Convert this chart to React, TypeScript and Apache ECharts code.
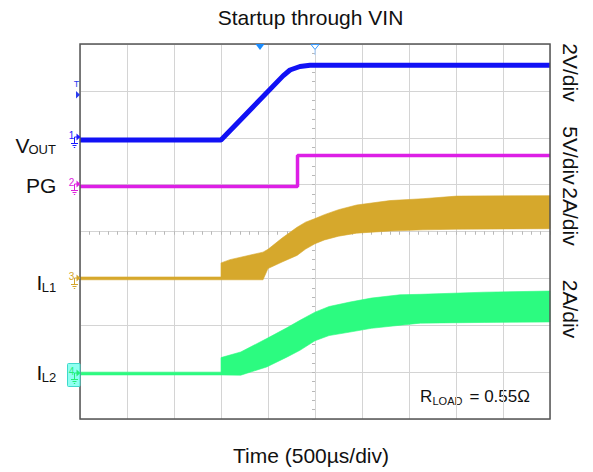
import React, { useEffect, useRef } from "react";
import * as echarts from "echarts";

// Time relative to trigger (µs), 500 µs/div
const voutT = [-2500, -1000, -340, -266, -160, -53, 2500];
const voutV = [0, 0, 2.74, 2.99, 3.14, 3.19, 3.19]; // V, 2V/div
const pgT = [-2500, -186, -186, 2500];
const pgV = [0, 0, 3.3, 3.3]; // V, 5V/div
const il1T = [-2500, -1000, -1000, -904, -553, -500, -350, -191, -100, 0, 100, 250, 443, 798, 1149, 1507, 2500];
const il1Lo = [-0.06, -0.06, -0.06, -0.06, -0.06, 0.42, 0.7, 0.98, 1.25, 1.48, 1.64, 1.8, 1.93, 2.02, 2.07, 2.1, 2.12]; // A
const il1Hi = [0.06, 0.06, 0.66, 0.8, 1.12, 1.24, 1.72, 2.18, 2.4, 2.55, 2.72, 2.93, 3.13, 3.32, 3.4, 3.51, 3.53]; // A
const il2T = [-2500, -1000, -1000, -790, -514, -300, -160, 0, 150, 372, 600, 904, 1122, 1800, 2500];
const il2Lo = [-0.06, -0.06, -0.06, -0.07, 0.28, 0.7, 0.99, 1.4, 1.62, 1.77, 1.93, 2.06, 2.15, 2.18, 2.2]; // A
const il2Hi = [0.06, 0.06, 0.68, 0.92, 1.49, 1.95, 2.27, 2.62, 2.86, 3.05, 3.22, 3.36, 3.38, 3.47, 3.52]; // A

// channel display settings (screen divisions from center, units per division)
const CH1 = { offset: 1.95, scale: 2 };
const CH2 = { offset: 0.96, scale: 5 };
const CH3 = { offset: -1.0, scale: 2 };
const CH4 = { offset: -3.03, scale: 2 };

const FONT = "'Liberation Sans', Arial, Helvetica, sans-serif";
const GRID_GRAY = "#d4d4d4";

function toDiv(t: number[], v: number[], ch: { offset: number; scale: number }) {
  return t.map((x, i) => [x, ch.offset + v[i] / ch.scale]);
}

function bandSeries(t: number[], lo: number[], hi: number[], ch: { offset: number; scale: number }, color: string) {
  return {
    type: "custom",
    data: [[0, 0]],
    z: 3,
    renderItem: (_params: any, api: any) => {
      const top = t.map((x, i) => api.coord([x, ch.offset + hi[i] / ch.scale]));
      const bot = t.map((x, i) => api.coord([x, ch.offset + lo[i] / ch.scale])).reverse();
      return {
        type: "polygon",
        shape: { points: top.concat(bot) },
        style: { fill: color, stroke: color, lineWidth: 0.6 },
      };
    },
  };
}

function chMarker(num: string, y: number, color: string, boxed: boolean): any[] {
  const els: any[] = [];
  if (boxed) {
    els.push({
      type: "rect",
      shape: { x: 67.5, y: y - 9.5, width: 12.5, height: 23, r: 1 },
      style: { fill: "#8ffff0", stroke: "#3fd9cc", lineWidth: 1 },
      z: 10,
    });
  }
  els.push(
    { type: "text", x: 71.5, y: y - 2, style: { text: num, fill: color, font: `10px ${FONT}`, textAlign: "center", textVerticalAlign: "middle" }, z: 11 },
    { type: "line", shape: { x1: 74.5, y1: y, x2: 77, y2: y }, style: { stroke: color, lineWidth: 1 }, z: 11 },
    { type: "line", shape: { x1: 74.5, y1: y, x2: 74.5, y2: y + 6 }, style: { stroke: color, lineWidth: 1 }, z: 11 },
    { type: "polygon", shape: { points: [[76.5, y - 3.5], [80.5, y], [76.5, y + 3.5]] }, style: { fill: color }, z: 11 },
    { type: "line", shape: { x1: 71, y1: y + 6.5, x2: 78, y2: y + 6.5 }, style: { stroke: color, lineWidth: 1 }, z: 11 },
    { type: "line", shape: { x1: 72.5, y1: y + 8.5, x2: 76.5, y2: y + 8.5 }, style: { stroke: color, lineWidth: 1 }, z: 11 },
    { type: "line", shape: { x1: 73.8, y1: y + 10.5, x2: 75.2, y2: y + 10.5 }, style: { stroke: color, lineWidth: 1 }, z: 11 }
  );
  return els;
}

function label(main: string, sub: string, x: number, y: number, subX: number, subY: number): any[] {
  const els: any[] = [
    { type: "text", x, y, style: { text: main, fill: "#111", font: `21px ${FONT}`, textAlign: "left", textVerticalAlign: "middle" } },
  ];
  if (sub) {
    els.push({ type: "text", x: subX, y: subY, style: { text: sub, fill: "#111", font: `13px ${FONT}`, textAlign: "left", textVerticalAlign: "middle" } });
  }
  return els;
}

function rotLabel(text: string, y: number): any {
  return {
    type: "text",
    x: 570,
    y,
    rotation: -Math.PI / 2,
    style: { text, fill: "#111", font: `21px ${FONT}`, textAlign: "center", textVerticalAlign: "middle" },
  };
}

export default function App() {
  const ref = useRef<HTMLDivElement>(null);
  useEffect(() => {
    if (!ref.current) return;
    const chart = echarts.init(ref.current, undefined, { renderer: "svg" });
    const tickAxisX = (inside: boolean, withSplit: boolean) => ({
      type: "value",
      min: -2500,
      max: 2500,
      interval: 500,
      axisLabel: { show: false },
      axisLine: { show: withSplit, onZero: true, lineStyle: { color: GRID_GRAY, width: 1 } },
      axisTick: { show: true, inside, length: 3, lineStyle: { color: "#b8b8b8" } },
      minorTick: { show: true, splitNumber: 5, length: 3, lineStyle: { color: "#b8b8b8" } },
      splitLine: { show: withSplit, lineStyle: { color: GRID_GRAY, width: 1 } },
    });
    const tickAxisY = (inside: boolean, withSplit: boolean) => ({
      type: "value",
      min: -4,
      max: 4,
      interval: 1,
      axisLabel: { show: false },
      axisLine: { show: withSplit, onZero: true, lineStyle: { color: GRID_GRAY, width: 1 } },
      axisTick: { show: true, inside, length: 3, lineStyle: { color: "#b8b8b8" } },
      minorTick: { show: true, splitNumber: 5, length: 3, lineStyle: { color: "#b8b8b8" } },
      splitLine: { show: withSplit, lineStyle: { color: GRID_GRAY, width: 1 } },
    });

    const graphic: any[] = [
      { type: "text", x: 310.5, y: 17.5, style: { text: "Startup through VIN", fill: "#111", font: `21px ${FONT}`, textAlign: "center", textVerticalAlign: "middle" } },
      { type: "text", x: 311, y: 455.5, style: { text: "Time (500µs/div)", fill: "#111", font: `21px ${FONT}`, textAlign: "center", textVerticalAlign: "middle" } },
      ...label("V", "OUT", 15.5, 145, 28.5, 149.5),
      ...label("PG", "", 26, 185.5, 0, 0),
      ...label("I", "L1", 36.5, 282, 41.8, 287),
      ...label("I", "L2", 36.5, 372.5, 41.8, 377.5),
      rotLabel("2V/div", 72.5),
      rotLabel("5V/div", 155.5),
      rotLabel("2A/div", 216.5),
      rotLabel("2A/div", 309),
      { type: "text", x: 420, y: 396.5, style: { text: "R", fill: "#111", font: `17px ${FONT}`, textAlign: "left", textVerticalAlign: "middle" } },
      { type: "text", x: 432.5, y: 401, style: { text: "LOAD", fill: "#111", font: `11px ${FONT}`, textAlign: "left", textVerticalAlign: "middle" } },
      { type: "text", x: 469.5, y: 396.5, style: { text: "= 0.55Ω", fill: "#111", font: `17px ${FONT}`, textAlign: "left", textVerticalAlign: "middle" } },
      ...chMarker("1", 137, "#1a1aff", false),
      ...chMarker("2", 184, "#dd22dd", false),
      ...chMarker("3", 278, "#d4a52a", false),
      ...chMarker("4", 373, "#22ee77", true),
      { type: "text", x: 76.5, y: 83.5, style: { text: "T", fill: "#2a3cf0", font: `9px ${FONT}`, textAlign: "center", textVerticalAlign: "middle" }, z: 11 },
      { type: "polygon", shape: { points: [[76, 91], [80, 94.7], [76, 98.4]] }, style: { fill: "#2a3cf0" }, z: 11 },
      { type: "polygon", shape: { points: [[255.5, 44], [264.5, 44], [260, 50]] }, style: { fill: "#1a8cff" }, z: 11 },
      { type: "polygon", shape: { points: [[311, 44.5], [319, 44.5], [315, 49.5]] }, style: { fill: "#fff", stroke: "#3a9cff", lineWidth: 1 }, z: 11 },
      { type: "line", shape: { x1: 315, y1: 49.5, x2: 315, y2: 55 }, style: { stroke: "#9ccaff", lineWidth: 1 }, z: 11 },
    ];

    chart.setOption({
      animation: false,
      backgroundColor: "#fff",
      grid: { left: 80, top: 44, width: 470, height: 375, show: true, borderColor: "#555", borderWidth: 1.5, backgroundColor: "transparent", z: 5 },
      xAxis: [tickAxisX(false, true), tickAxisX(true, false)],
      yAxis: [tickAxisY(false, true), tickAxisY(true, false)],
      series: [
        bandSeries(il1T, il1Lo, il1Hi, CH3, "#d6a82c"),
        bandSeries(il2T, il2Lo, il2Hi, CH4, "#2cfb80"),
        {
          type: "line",
          data: toDiv(pgT, pgV, CH2),
          showSymbol: false,
          lineStyle: { color: "#dd1fe6", width: 3.5 },
          z: 4,
        },
        {
          type: "line",
          data: toDiv(voutT, voutV, CH1),
          showSymbol: false,
          lineStyle: { color: "#1111f5", width: 5 },
          z: 4,
        },
      ],
      graphic,
    });
    return () => chart.dispose();
  }, []);
  return <div ref={ref} style={{ position: "absolute", left: 0, top: 0, width: 593, height: 472 }} />;
}
